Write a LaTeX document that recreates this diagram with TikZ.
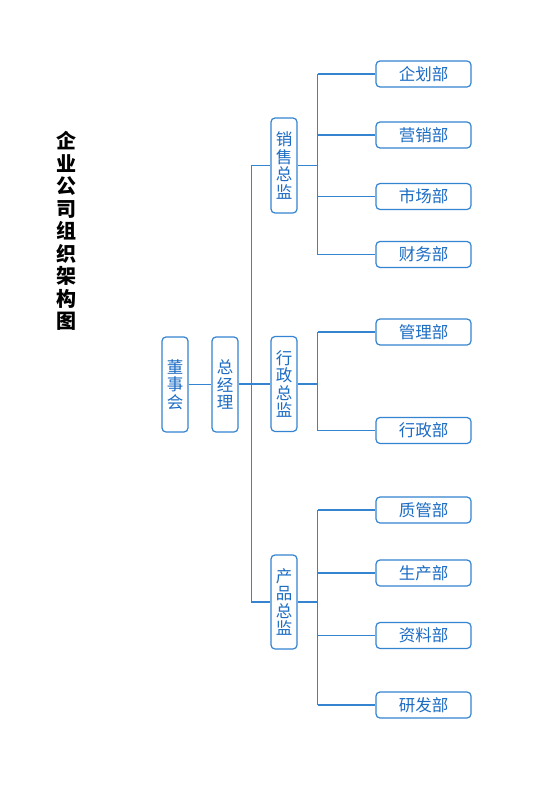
\documentclass[tikz,border=0pt]{standalone}
\usepackage{fontspec}
\setmainfont{Noto Sans CJK SC}
\newfontfamily\cjk{Noto Sans CJK SC}
\definecolor{lineblue}{RGB}{52,132,208}
\definecolor{textblue}{RGB}{28,108,196}
\begin{document}
\begin{tikzpicture}[x=1bp,y=-1bp,
  base/.style={draw=lineblue,line width=1.2bp,rounded corners=4bp,fill=white,text=textblue,inner sep=0pt,align=center},
  vbox/.style={base,minimum width=26bp,minimum height=95bp,font=\cjk\fontsize{16.5bp}{17.5bp}\selectfont},
  dept/.style={base,minimum width=95bp,minimum height=26bp,font=\cjk\fontsize{16.5bp}{18bp}\selectfont},
  conn/.style={draw=lineblue,line width=1.2bp}]
\useasboundingbox (0,0) rectangle (560,792);
\fill[white] (0,0) rectangle (560,792);
\node[font=\cjk\bfseries\fontsize{20bp}{22.5bp}\selectfont,align=center,text=black] (title) at (66,231) {企\\业\\公\\司\\组\\织\\架\\构\\图};
\node[vbox] (dsh) at (175,384.5) {董\\事\\会};
\node[vbox] (zjl) at (225,384.5) {总\\经\\理};
\node[vbox] (xs) at (284,165.5) {销\\售\\总\\监};
\node[vbox] (xz) at (284,384) {行\\政\\总\\监};
\node[vbox,minimum height=94bp] (cp) at (284,602) {产\\品\\总\\监};
\node[dept] (d1) at (423.5,74) {企划部};
\node[dept] (d2) at (423.5,135) {营销部};
\node[dept] (d3) at (423.5,196.5) {市场部};
\node[dept] (d4) at (423.5,254.5) {财务部};
\node[dept] (d5) at (423.5,332) {管理部};
\node[dept] (d6) at (423.5,430.5) {行政部};
\node[dept] (d7) at (423.5,510) {质管部};
\node[dept] (d8) at (423.5,573) {生产部};
\node[dept] (d9) at (423.5,635.5) {资料部};
\node[dept] (d10) at (423.5,705) {研发部};
\draw[conn] (dsh.east) -- (zjl.west);
\draw[conn] (zjl.east |- xz.west) -- (xz.west);
\draw[conn] (xs.west) -- ++(-19,0) coordinate (tt) -- (tt |- cp.west) -- (cp.west);
\draw[conn] (xs.east) -- ++(20,0) coordinate (b1);
\draw[conn] (b1 |- d1.west) -- (b1 |- d4.west);
\foreach \d in {d1,d2,d3,d4} \draw[conn] (b1 |- \d.west) -- (\d.west);
\draw[conn] (xz.east) -- ++(20,0) coordinate (b2);
\draw[conn] (b2 |- d5.west) -- (b2 |- d6.west);
\foreach \d in {d5,d6} \draw[conn] (b2 |- \d.west) -- (\d.west);
\draw[conn] (cp.east) -- ++(20,0) coordinate (b3);
\draw[conn] (b3 |- d7.west) -- (b3 |- d10.west);
\foreach \d in {d7,d8,d9,d10} \draw[conn] (b3 |- \d.west) -- (\d.west);
\end{tikzpicture}
\end{document}
